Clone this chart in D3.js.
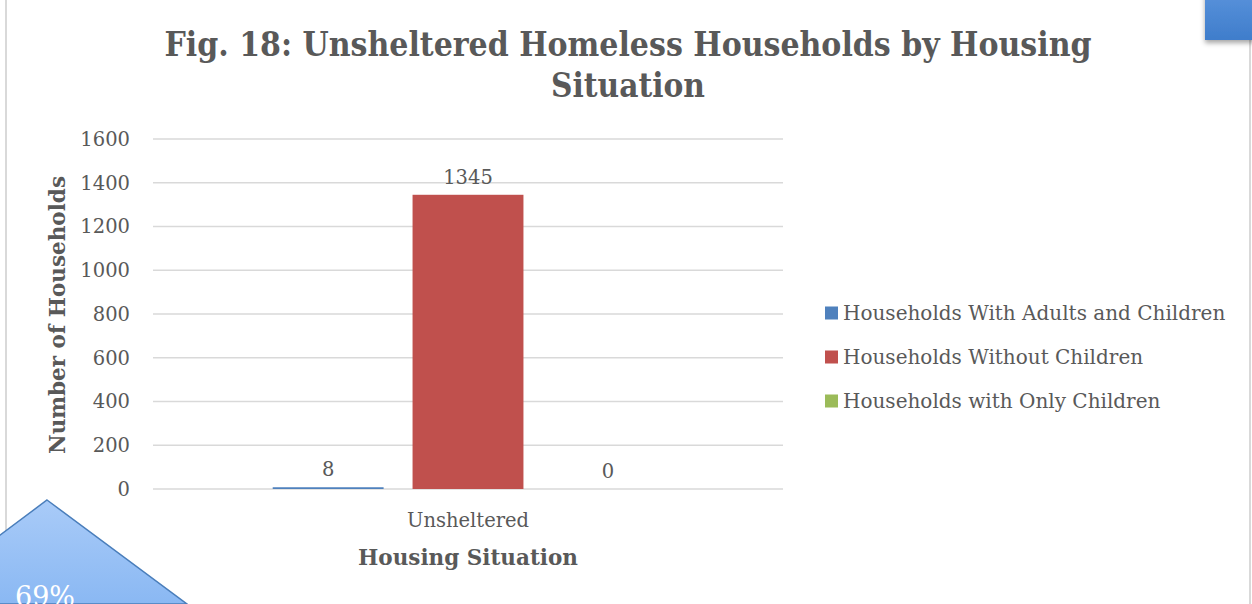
<!DOCTYPE html>
<meta charset="utf-8">
<style>
  body { margin: 0; background: #fff; }
  text { font-family: "DejaVu Serif", "Liberation Serif", serif; fill: #595959; }
  .grid line { stroke: #d9d9d9; stroke-width: 1.5px; }
  .title { font-weight: bold; font-size: 34px; }
  .axis-title { font-weight: bold; font-size: 21.5px; }
  .tick-label { font-size: 19.5px; }
  .legend text { font-size: 20px; }
</style>
<body>
<script src="https://d3js.org/d3.v7.min.js"></script>
<script>
// chart data
const categories = ["Unsheltered"];
const seriesNames = ["Households With Adults and Children", "Households Without Children", "Households with Only Children"];
const seriesValues = [8, 1345, 0];
const seriesColors = ["#4f81bd", "#c0504d", "#9bbb59"];
const yTicks = [0, 200, 400, 600, 800, 1000, 1200, 1400, 1600];

const width = 1252, height = 604;

const svg = d3.select("body").append("svg")
  .attr("width", width)
  .attr("height", height);

const defs = svg.append("defs");
const g1 = defs.append("linearGradient").attr("id", "tri").attr("x1", 0).attr("y1", 0).attr("x2", 0).attr("y2", 1);
g1.append("stop").attr("offset", "0%").attr("stop-color", "#a9cbf8");
g1.append("stop").attr("offset", "100%").attr("stop-color", "#8ab8f3");
const g2 = defs.append("linearGradient").attr("id", "box").attr("x1", 0).attr("y1", 0).attr("x2", 0).attr("y2", 1);
g2.append("stop").attr("offset", "0%").attr("stop-color", "#5a93dc");
g2.append("stop").attr("offset", "100%").attr("stop-color", "#3f7dcb");
const sh = defs.append("filter").attr("id", "shadow").attr("x", "-20%").attr("y", "-20%").attr("width", "140%").attr("height", "160%");
sh.append("feDropShadow").attr("dx", 0).attr("dy", 3).attr("stdDeviation", 2.5).attr("flood-color", "#000").attr("flood-opacity", 0.35);

// chart frame borders
svg.append("line").attr("x1", 6).attr("x2", 6).attr("y1", 0).attr("y2", height)
  .attr("stroke", "#d9d9d9").attr("stroke-width", 2);
svg.append("line").attr("x1", 1250).attr("x2", 1250).attr("y1", 0).attr("y2", height)
  .attr("stroke", "#d9d9d9").attr("stroke-width", 2);

// decoration: blue box top right
svg.append("rect").attr("x", 1205).attr("y", -10).attr("width", 60).attr("height", 50)
  .attr("fill", "url(#box)").attr("filter", "url(#shadow)");

const x0 = d3.scaleBand().domain(categories).range([153, 783]).paddingOuter(0);
const x1 = d3.scaleBand().domain(seriesNames).range([x0.bandwidth() * 0.19, x0.bandwidth() * 0.81]).paddingInner(0.207);
const y = d3.scaleLinear().domain([0, 1600]).range([489, 139]);

// gridlines
svg.append("g").attr("class", "grid")
  .selectAll("line").data(yTicks).join("line")
  .attr("x1", 153).attr("x2", 783)
  .attr("y1", d => y(d)).attr("y2", d => y(d));

// tick labels
svg.append("g").selectAll("text").data(yTicks).join("text")
  .attr("class", "tick-label")
  .attr("x", 130).attr("y", d => y(d))
  .attr("dy", "0.35em")
  .attr("text-anchor", "end")
  .text(d => d);

// bars
const groups = svg.append("g").selectAll("g").data(categories).join("g")
  .attr("transform", d => `translate(${x0(d)},0)`);

const rows = seriesNames.map((s, i) => ({ name: s, value: seriesValues[i], color: seriesColors[i] }));

groups.selectAll("rect").data(rows).join("rect")
  .attr("x", d => x1(d.name))
  .attr("width", x1.bandwidth())
  .attr("y", d => y(d.value))
  .attr("height", d => y(0) - y(d.value))
  .attr("fill", d => d.color);

groups.selectAll("text.val").data(rows).join("text")
  .attr("class", "tick-label val")
  .attr("x", d => x1(d.name) + x1.bandwidth() / 2)
  .attr("y", d => y(d.value) - 11)
  .attr("text-anchor", "middle")
  .text(d => d.value);

// category label
svg.append("g").selectAll("text").data(categories).join("text")
  .attr("class", "tick-label")
  .attr("x", d => x0(d) + x0.bandwidth() / 2)
  .attr("y", 527)
  .attr("text-anchor", "middle")
  .text(d => d);

// axis titles
svg.append("text").attr("class", "axis-title")
  .attr("x", 468).attr("y", 565).attr("text-anchor", "middle")
  .text("Housing Situation");

svg.append("text").attr("class", "axis-title")
  .attr("transform", "translate(65,315) rotate(-90)")
  .attr("text-anchor", "middle")
  .text("Number of Households");

// title, squeezed to the width of the original
svg.append("text").attr("class", "title").attr("text-anchor", "middle")
  .attr("x", 628).attr("y", 56)
  .attr("textLength", 927).attr("lengthAdjust", "spacingAndGlyphs")
  .text("Fig. 18: Unsheltered Homeless Households by Housing");
svg.append("text").attr("class", "title").attr("text-anchor", "middle")
  .attr("x", 628).attr("y", 97)
  .attr("textLength", 154).attr("lengthAdjust", "spacingAndGlyphs")
  .text("Situation");

// legend
const legend = svg.append("g").attr("class", "legend")
  .selectAll("g").data(seriesNames).join("g")
  .attr("transform", (d, i) => `translate(825,${313 + i * 44})`);
legend.append("rect").attr("x", 0).attr("y", -6.5).attr("width", 13).attr("height", 13)
  .attr("fill", (d, i) => seriesColors[i]);
legend.append("text").attr("x", 18).attr("dy", "0.35em").text(d => d);

// decoration: diamond bottom left
svg.append("polygon")
  .attr("points", "47,500 187,604 -40,604 -40,565")
  .attr("fill", "url(#tri)").attr("stroke", "#4a7ebb").attr("stroke-width", 1.5);
svg.append("text").attr("x", 15).attr("y", 606)
  .style("fill", "#fff").style("font-size", "27px")
  .text("69%");
</script>
</body>
</html>
